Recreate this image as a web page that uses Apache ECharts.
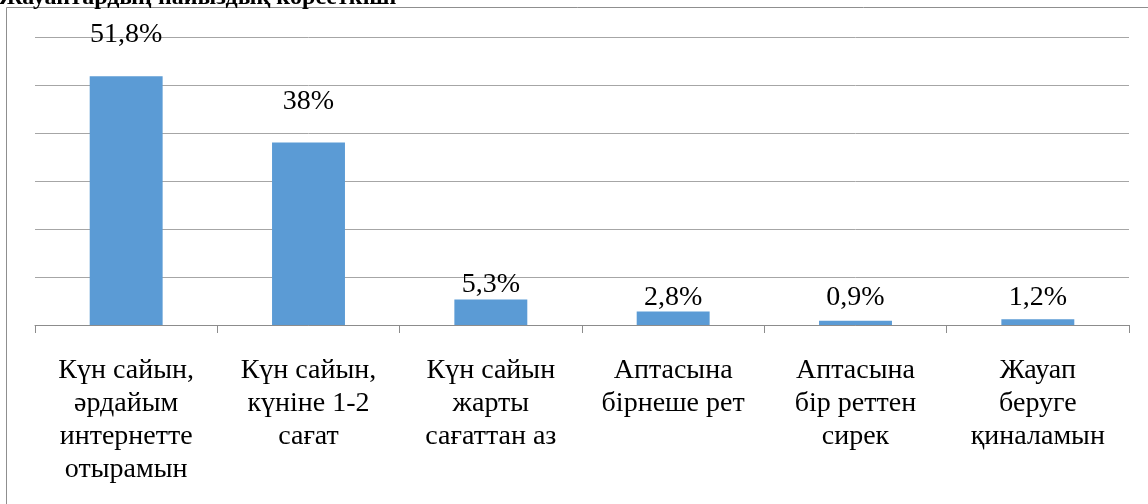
<!DOCTYPE html>
<html>
<head>
<meta charset="utf-8">
<title>Chart</title>
<script src="https://cdn.jsdelivr.net/npm/echarts@6/dist/echarts.min.js"></script>
<style>
  html, body { margin: 0; padding: 0; background: #fff; }
  #chart { width: 1148px; height: 504px; }
</style>
</head>
<body>
<div id="chart"></div>
<script>
  // categories (answers) and their shares, %
  var categories = [
    'Күн сайын,\nәрдайым\nинтернетте\nотырамын',
    'Күн сайын,\nкүніне 1-2\nсағат',
    'Күн сайын\nжарты\nсағаттан аз',
    'Аптасына\nбірнеше рет',
    'Аптасына\nбір реттен\nсирек',
    'Жауап\nберуге\nқиналамын'
  ];
  var shares = [51.8, 38, 5.3, 2.8, 0.9, 1.2];
  var yTicks = [0, 10, 20, 30, 40, 50, 60];

  var titleText = 'Жауаптардың пайыздық көрсеткіші';

  // the value labels don't sit at one fixed distance above their bars
  var labelGap = [28, 27, 1, 0, 9, 8];

  var serif = 'Times New Roman, Liberation Serif, DejaVu Serif, serif';

  var chart = echarts.init(document.getElementById('chart'));

  var barData = shares.map(function (v, i) {
    return {
      value: v,
      label: { distance: labelGap[i] }
    };
  });

  chart.setOption({
    animation: false,
    title: {
      text: titleText,
      left: -6,
      top: -19,
      textStyle: { fontFamily: serif, fontSize: 24, fontWeight: 'bold', color: '#000' }
    },
    graphic: [{
      type: 'rect',
      shape: { x: 6.5, y: 7.5, width: 1200, height: 600 },
      style: { fill: 'none', stroke: '#8f8f8f', lineWidth: 1 },
      silent: true
    }],
    grid: {
      left: 35,
      right: 19,
      top: 37,
      bottom: 179
    },
    xAxis: {
      type: 'category',
      data: categories,
      axisLine: { lineStyle: { color: '#8c8c8c', width: 1 } },
      axisTick: { show: true, length: 8, lineStyle: { color: '#8c8c8c' } },
      axisLabel: {
        interval: 0,
        margin: 29,
        fontFamily: serif,
        fontSize: 28,
        lineHeight: 33,
        color: '#000',
        align: 'center'
      }
    },
    yAxis: {
      type: 'value',
      min: yTicks[0],
      max: yTicks[yTicks.length - 1],
      interval: yTicks[1] - yTicks[0],
      axisLine: { show: false },
      axisTick: { show: false },
      axisLabel: { show: false },
      splitLine: { lineStyle: { color: '#a6a6a6', width: 1 } }
    },
    series: [{
      type: 'bar',
      data: barData,
      barWidth: '40%',
      itemStyle: { color: '#5b9bd5' },
      label: {
        show: true,
        position: 'top',
        fontFamily: serif,
        fontSize: 28,
        color: '#000',
        formatter: function (p) {
          return String(p.value).replace('.', ',') + '%';
        }
      }
    }]
  });
</script>
</body>
</html>
